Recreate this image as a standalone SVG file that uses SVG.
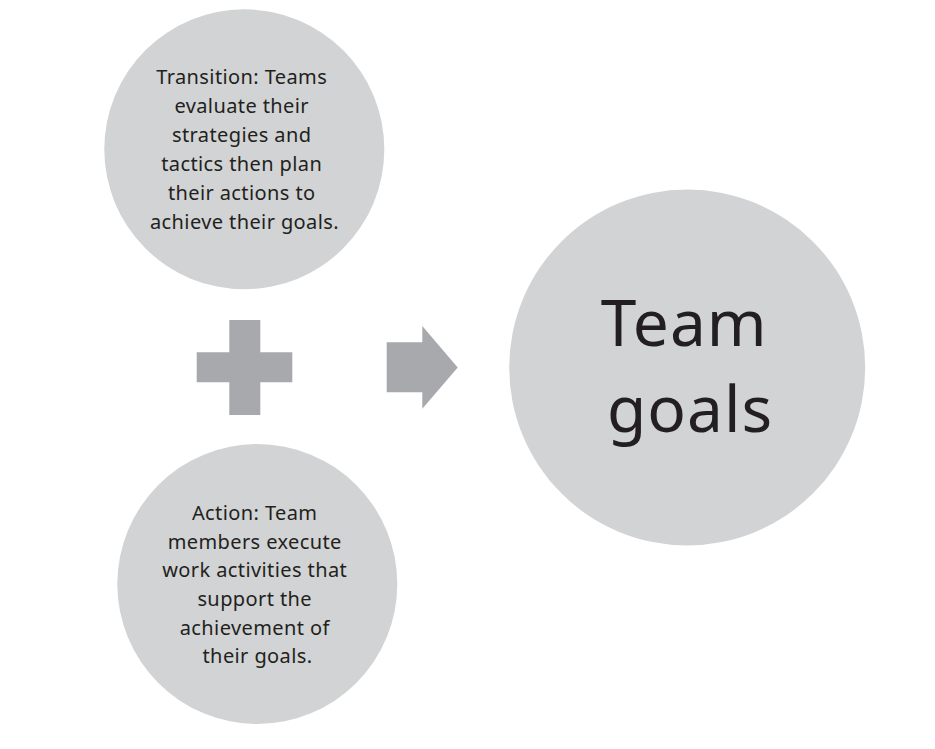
<svg xmlns="http://www.w3.org/2000/svg" width="935" height="749" viewBox="0 0 935 749">
  <style>
    .circle { fill: #d1d3d4; }
    .shape { fill: #a7a9ac; }
    .small { font-family: "Noto Sans", "Open Sans", sans-serif; font-size: 20px; letter-spacing: 0.4px; fill: #231f20; text-anchor: middle; }
    .big { font-family: "Noto Sans", "Open Sans", sans-serif; font-size: 64px; letter-spacing: 1px; fill: #231f20; text-anchor: middle; }
  </style>
  <rect width="935" height="749" fill="#ffffff"/>
  <g id="transition">
    <circle class="circle" cx="244.3" cy="149.3" r="140"/>
    <text class="small">
      <tspan x="244.5" y="84">Transition: Teams</tspan>
      <tspan x="244.5" y="113">evaluate their</tspan>
      <tspan x="244.5" y="142">strategies and</tspan>
      <tspan x="244.5" y="171">tactics then plan</tspan>
      <tspan x="244.5" y="200">their actions to</tspan>
      <tspan x="244.5" y="229">achieve their goals.</tspan>
    </text>
  </g>
  <g id="action">
    <circle class="circle" cx="257.3" cy="584" r="140"/>
    <text class="small">
      <tspan x="257.5" y="520">Action: Team</tspan>
      <tspan x="257.5" y="548.7">members execute</tspan>
      <tspan x="257.5" y="577.3">work activities that</tspan>
      <tspan x="257.5" y="606">support the</tspan>
      <tspan x="257.5" y="634.7">achievement of</tspan>
      <tspan x="257.5" y="663.3">their goals.</tspan>
    </text>
  </g>
  <g id="team-goals">
    <circle class="circle" cx="687.2" cy="367.5" r="178"/>
    <text class="big">
      <tspan x="693" y="345.7">Team</tspan>
      <tspan x="690" y="432.3">goals</tspan>
    </text>
  </g>
  <g id="connectors">
    <path id="plus" class="shape" d="M229.3,320 H260.3 V352.3 H292.3 V382.3 H260.3 V415 H229.3 V382.3 H196.7 V352.3 H229.3 Z"/>
    <path id="arrow" class="shape" d="M386.7,342.3 H422.3 V326 L457.7,367.5 L422.3,408.7 V392.3 H386.7 Z"/>
  </g>
</svg>
